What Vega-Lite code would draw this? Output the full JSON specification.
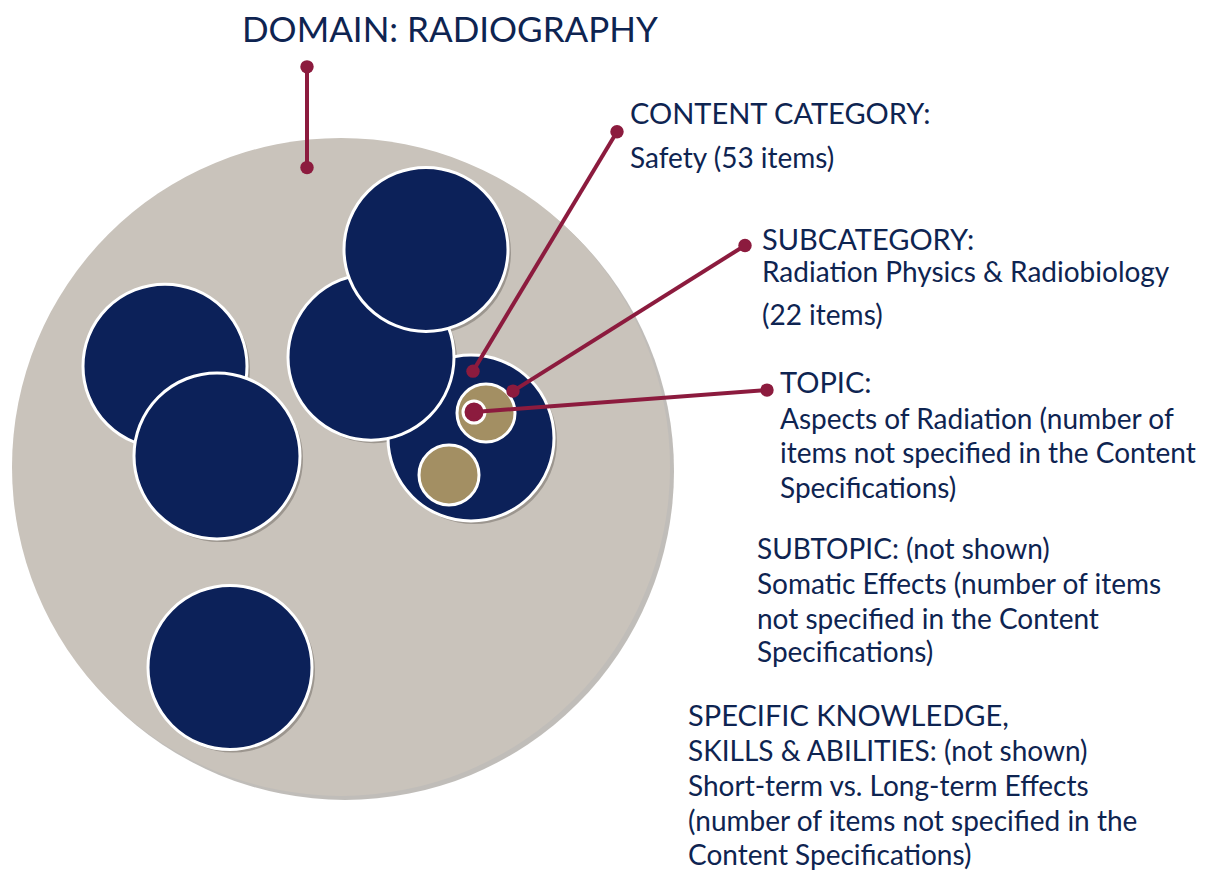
{
  "$schema": "https://vega.github.io/schema/vega-lite/v6.json",
  "width": 1210,
  "height": 871,
  "autosize": {"type": "fit", "contains": "padding"},
  "padding": 0,
  "background": "white",
  "config": {"view": {"stroke": null}},
  "datasets": {
    "circles": [
      {"id": "domain", "level": "Domain", "x": 341, "y": 468, "d": 658},
      {"id": "c6", "level": "Content category", "x": 471, "y": 439, "d": 166},
      {"id": "c2", "level": "Content category", "x": 371, "y": 358, "d": 166},
      {"id": "c1", "level": "Content category", "x": 426, "y": 250, "d": 164},
      {"id": "c3", "level": "Content category", "x": 165, "y": 367, "d": 164},
      {"id": "c4", "level": "Content category", "x": 217, "y": 457, "d": 166},
      {"id": "c5", "level": "Content category", "x": 230, "y": 669, "d": 164},
      {"id": "s1", "level": "Subcategory", "x": 486, "y": 414, "d": 58},
      {"id": "s2", "level": "Subcategory", "x": 449, "y": 476, "d": 60},
      {"id": "t1", "level": "Topic", "x": 474, "y": 413, "d": 22}
    ],
    "links": [
      {"level": "Domain", "x1": 307, "y1": 67, "x2": 307, "y2": 168},
      {"level": "Content category", "x1": 617, "y1": 132, "x2": 473, "y2": 372},
      {"level": "Subcategory", "x1": 745, "y1": 246, "x2": 513, "y2": 392},
      {"level": "Topic", "x1": 767, "y1": 391, "x2": 474, "y2": 413}
    ],
    "labels": [
      {"role": "title", "x": 242, "y": 42, "text": "DOMAIN: RADIOGRAPHY"},
      {"role": "head", "x": 630, "y": 124, "text": "CONTENT CATEGORY:"},
      {"role": "body", "x": 630, "y": 168, "text": "Safety (53 items)"},
      {"role": "head", "x": 762, "y": 251, "text": "SUBCATEGORY:"},
      {"role": "body", "x": 762, "y": 283, "text": "Radiation Physics & Radiobiology"},
      {"role": "body", "x": 762, "y": 326, "text": "(22 items)"},
      {"role": "head", "x": 780, "y": 394, "text": "TOPIC:"},
      {"role": "body", "x": 780, "y": 430, "text": "Aspects of Radiation (number of"},
      {"role": "body", "x": 780, "y": 464, "text": "items not specified in the Content"},
      {"role": "body", "x": 780, "y": 499, "text": "Specifications)"},
      {"role": "body", "x": 757, "y": 560, "text": "SUBTOPIC: (not shown)"},
      {"role": "body", "x": 757, "y": 595, "text": "Somatic Effects (number of items"},
      {"role": "body", "x": 757, "y": 630, "text": "not specified in the Content"},
      {"role": "body", "x": 757, "y": 664, "text": "Specifications)"},
      {"role": "head", "x": 688, "y": 728, "text": "SPECIFIC KNOWLEDGE,"},
      {"role": "body", "x": 688, "y": 763, "text": "SKILLS & ABILITIES: (not shown)"},
      {"role": "body", "x": 688, "y": 798, "text": "Short-term vs. Long-term Effects"},
      {"role": "body", "x": 688, "y": 833, "text": "(number of items not specified in the"},
      {"role": "body", "x": 688, "y": 867, "text": "Content Specifications)"}
    ]
  },
  "layer": [
    {
      "data": {"name": "circles"},
      "transform": [{"filter": "datum.level == 'Domain'"}],
      "mark": {"type": "point", "shape": "circle", "filled": true, "color": "#8d8780", "opacity": 0.55, "xOffset": 4, "yOffset": 4, "strokeWidth": 0},
      "encoding": {
        "x": {"field": "x", "type": "quantitative", "scale": {"domain": [0, 1210], "nice": false, "zero": false}, "axis": null},
        "y": {"field": "y", "type": "quantitative", "scale": {"domain": [0, 871], "reverse": true, "nice": false, "zero": false}, "axis": null},
        "size": {"field": "d", "type": "quantitative", "scale": {"type": "pow", "exponent": 2, "domain": [0, 1000], "range": [0, 1000000], "zero": true}, "legend": null}
      }
    },
    {
      "data": {"name": "circles"},
      "transform": [{"filter": "datum.level == 'Domain'"}],
      "mark": {"type": "point", "shape": "circle", "filled": true, "opacity": 1, "strokeWidth": 0},
      "encoding": {
        "x": {"field": "x", "type": "quantitative"},
        "y": {"field": "y", "type": "quantitative"},
        "size": {"field": "d", "type": "quantitative", "legend": null},
        "color": {"field": "level", "type": "nominal", "scale": {"domain": ["Domain", "Content category", "Subcategory", "Topic"], "range": ["#c9c3bb", "#0c2159", "#a38f63", "#8c1b3e"]}, "legend": null}
      }
    },
    {
      "data": {"name": "circles"},
      "transform": [{"filter": "datum.level != 'Domain'"}],
      "mark": {"type": "point", "shape": "circle", "filled": true, "color": "#6f6a64", "opacity": 0.5, "xOffset": 3, "yOffset": 3, "strokeWidth": 0},
      "encoding": {
        "x": {"field": "x", "type": "quantitative"},
        "y": {"field": "y", "type": "quantitative"},
        "size": {"field": "d", "type": "quantitative", "legend": null}
      }
    },
    {
      "data": {"name": "circles"},
      "transform": [{"filter": "datum.level != 'Domain'"}],
      "mark": {"type": "point", "shape": "circle", "filled": true, "opacity": 1, "stroke": "white", "strokeWidth": 3},
      "encoding": {
        "x": {"field": "x", "type": "quantitative"},
        "y": {"field": "y", "type": "quantitative"},
        "size": {"field": "d", "type": "quantitative", "legend": null},
        "color": {"field": "level", "type": "nominal", "legend": null}
      }
    },
    {
      "data": {"name": "links"},
      "mark": {"type": "rule", "color": "#8c1b3e", "strokeWidth": 4},
      "encoding": {
        "x": {"field": "x1", "type": "quantitative"},
        "y": {"field": "y1", "type": "quantitative"},
        "x2": {"field": "x2"},
        "y2": {"field": "y2"}
      }
    },
    {
      "data": {"name": "links"},
      "mark": {"type": "point", "shape": "circle", "filled": true, "color": "#8c1b3e", "opacity": 1, "size": 180, "strokeWidth": 0},
      "encoding": {
        "x": {"field": "x1", "type": "quantitative"},
        "y": {"field": "y1", "type": "quantitative"}
      }
    },
    {
      "data": {"name": "links"},
      "mark": {"type": "point", "shape": "circle", "filled": true, "color": "#8c1b3e", "opacity": 1, "size": 180, "strokeWidth": 0},
      "encoding": {
        "x": {"field": "x2", "type": "quantitative"},
        "y": {"field": "y2", "type": "quantitative"}
      }
    },
    {
      "data": {"name": "labels"},
      "transform": [{"filter": "datum.role == 'title'"}],
      "mark": {"type": "text", "align": "left", "baseline": "alphabetic", "font": "Lato", "fontSize": 35, "color": "#0e2451"},
      "encoding": {
        "x": {"field": "x", "type": "quantitative"},
        "y": {"field": "y", "type": "quantitative"},
        "text": {"field": "text"}
      }
    },
    {
      "data": {"name": "labels"},
      "transform": [{"filter": "datum.role == 'head'"}],
      "mark": {"type": "text", "align": "left", "baseline": "alphabetic", "font": "Lato", "fontSize": 29, "color": "#0e2451"},
      "encoding": {
        "x": {"field": "x", "type": "quantitative"},
        "y": {"field": "y", "type": "quantitative"},
        "text": {"field": "text"}
      }
    },
    {
      "data": {"name": "labels"},
      "transform": [{"filter": "datum.role == 'body'"}],
      "mark": {"type": "text", "align": "left", "baseline": "alphabetic", "font": "Lato", "fontSize": 28, "color": "#0e2451"},
      "encoding": {
        "x": {"field": "x", "type": "quantitative"},
        "y": {"field": "y", "type": "quantitative"},
        "text": {"field": "text"}
      }
    }
  ]
}
